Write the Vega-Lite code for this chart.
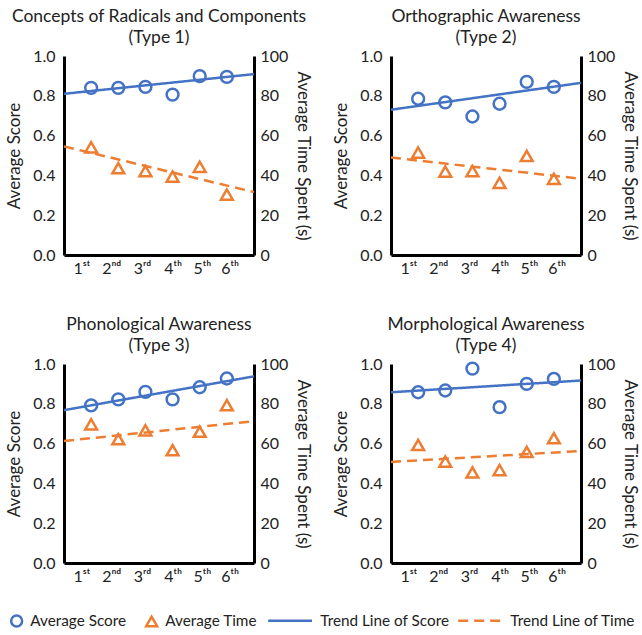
{
  "$schema": "https://vega.github.io/schema/vega-lite/v6.json",
  "padding": {"left": 5, "top": 7, "right": 0, "bottom": 2},
  "background": "white",
  "datasets": {
    "d": [
      {"type": "Type 1", "grade": 1, "series": "Average Score", "value": 0.84},
      {"type": "Type 1", "grade": 2, "series": "Average Score", "value": 0.84},
      {"type": "Type 1", "grade": 3, "series": "Average Score", "value": 0.845},
      {"type": "Type 1", "grade": 4, "series": "Average Score", "value": 0.806},
      {"type": "Type 1", "grade": 5, "series": "Average Score", "value": 0.899},
      {"type": "Type 1", "grade": 6, "series": "Average Score", "value": 0.895},
      {"type": "Type 1", "grade": 1, "series": "Average Time", "value": 54.1},
      {"type": "Type 1", "grade": 2, "series": "Average Time", "value": 43.6},
      {"type": "Type 1", "grade": 3, "series": "Average Time", "value": 42.2},
      {"type": "Type 1", "grade": 4, "series": "Average Time", "value": 39.4},
      {"type": "Type 1", "grade": 5, "series": "Average Time", "value": 44.3},
      {"type": "Type 1", "grade": 6, "series": "Average Time", "value": 30.4},
      {"type": "Type 1", "grade": 0, "series": "Trend Line of Score", "value": 0.81},
      {"type": "Type 1", "grade": 7, "series": "Trend Line of Score", "value": 0.909},
      {"type": "Type 1", "grade": 0, "series": "Trend Line of Time", "value": 54.6},
      {"type": "Type 1", "grade": 7, "series": "Trend Line of Time", "value": 31.6},

      {"type": "Type 2", "grade": 1, "series": "Average Score", "value": 0.785},
      {"type": "Type 2", "grade": 2, "series": "Average Score", "value": 0.767},
      {"type": "Type 2", "grade": 3, "series": "Average Score", "value": 0.696},
      {"type": "Type 2", "grade": 4, "series": "Average Score", "value": 0.76},
      {"type": "Type 2", "grade": 5, "series": "Average Score", "value": 0.87},
      {"type": "Type 2", "grade": 6, "series": "Average Score", "value": 0.845},
      {"type": "Type 2", "grade": 1, "series": "Average Time", "value": 51.5},
      {"type": "Type 2", "grade": 2, "series": "Average Time", "value": 41.9},
      {"type": "Type 2", "grade": 3, "series": "Average Time", "value": 42.2},
      {"type": "Type 2", "grade": 4, "series": "Average Time", "value": 36.3},
      {"type": "Type 2", "grade": 5, "series": "Average Time", "value": 49.8},
      {"type": "Type 2", "grade": 6, "series": "Average Time", "value": 38.3},
      {"type": "Type 2", "grade": 0, "series": "Trend Line of Score", "value": 0.73},
      {"type": "Type 2", "grade": 7, "series": "Trend Line of Score", "value": 0.865},
      {"type": "Type 2", "grade": 0, "series": "Trend Line of Time", "value": 49.0},
      {"type": "Type 2", "grade": 7, "series": "Trend Line of Time", "value": 38.3},

      {"type": "Type 3", "grade": 1, "series": "Average Score", "value": 0.792},
      {"type": "Type 3", "grade": 2, "series": "Average Score", "value": 0.822},
      {"type": "Type 3", "grade": 3, "series": "Average Score", "value": 0.86},
      {"type": "Type 3", "grade": 4, "series": "Average Score", "value": 0.822},
      {"type": "Type 3", "grade": 5, "series": "Average Score", "value": 0.883},
      {"type": "Type 3", "grade": 6, "series": "Average Score", "value": 0.927},
      {"type": "Type 3", "grade": 1, "series": "Average Time", "value": 69.7},
      {"type": "Type 3", "grade": 2, "series": "Average Time", "value": 62.2},
      {"type": "Type 3", "grade": 3, "series": "Average Time", "value": 66.7},
      {"type": "Type 3", "grade": 4, "series": "Average Time", "value": 56.7},
      {"type": "Type 3", "grade": 5, "series": "Average Time", "value": 66.0},
      {"type": "Type 3", "grade": 6, "series": "Average Time", "value": 79.3},
      {"type": "Type 3", "grade": 0, "series": "Trend Line of Score", "value": 0.768},
      {"type": "Type 3", "grade": 7, "series": "Trend Line of Score", "value": 0.938},
      {"type": "Type 3", "grade": 0, "series": "Trend Line of Time", "value": 61.3},
      {"type": "Type 3", "grade": 7, "series": "Trend Line of Time", "value": 71.3},

      {"type": "Type 4", "grade": 1, "series": "Average Score", "value": 0.858},
      {"type": "Type 4", "grade": 2, "series": "Average Score", "value": 0.867},
      {"type": "Type 4", "grade": 3, "series": "Average Score", "value": 0.977},
      {"type": "Type 4", "grade": 4, "series": "Average Score", "value": 0.783},
      {"type": "Type 4", "grade": 5, "series": "Average Score", "value": 0.9},
      {"type": "Type 4", "grade": 6, "series": "Average Score", "value": 0.925},
      {"type": "Type 4", "grade": 1, "series": "Average Time", "value": 59.3},
      {"type": "Type 4", "grade": 2, "series": "Average Time", "value": 51.0},
      {"type": "Type 4", "grade": 3, "series": "Average Time", "value": 45.5},
      {"type": "Type 4", "grade": 4, "series": "Average Time", "value": 46.7},
      {"type": "Type 4", "grade": 5, "series": "Average Time", "value": 55.8},
      {"type": "Type 4", "grade": 6, "series": "Average Time", "value": 62.7},
      {"type": "Type 4", "grade": 0, "series": "Trend Line of Score", "value": 0.858},
      {"type": "Type 4", "grade": 7, "series": "Trend Line of Score", "value": 0.917},
      {"type": "Type 4", "grade": 0, "series": "Trend Line of Time", "value": 50.8},
      {"type": "Type 4", "grade": 7, "series": "Trend Line of Time", "value": 56.3}
    ]
  },
  "concat": [
    {
      "width": 190, "height": 199,
      "title": {"text": ["Concepts of Radicals and Components", "(Type 1)"]},
      "data": {"name": "d"},
      "transform": [{"filter": "datum.type === 'Type 1'"}],
      "encoding": {"x": {"field": "grade", "type": "quantitative", "scale": {"domain": [0, 7], "nice": false, "zero": false}, "axis": {"values": [0.64, 1.74, 2.87, 4.0, 5.08, 6.1], "labelExpr": "['1ˢᵗ', '2ⁿᵈ', '3ʳᵈ', '4ᵗʰ', '5ᵗʰ', '6ᵗʰ'][round(datum.value) - 1]", "title": null}}},
      "layer": [
        {
          "encoding": {"y": {"field": "value", "type": "quantitative", "scale": {"domain": [0, 1], "nice": false}, "axis": {"orient": "left", "title": "Average Score", "values": [0, 0.2, 0.4, 0.6, 0.8, 1], "format": ".1f"}}},
          "layer": [
            {"transform": [{"filter": "datum.series === 'Average Score'"}], "mark": {"type": "point", "filled": false, "size": 140, "strokeWidth": 2.5, "opacity": 1},
             "encoding": {"color": {"field": "series", "type": "nominal", "scale": {"domain": ["Average Score", "Average Time"], "range": ["#4472C4", "#ED7D31"]}, "legend": {"orient": "bottom", "direction": "horizontal", "title": null, "labelOffset": 6, "columnPadding": 14}},
                          "shape": {"field": "series", "type": "nominal", "scale": {"domain": ["Average Score", "Average Time"], "range": ["circle", "triangle-up"]}}}},
            {"transform": [{"filter": "datum.series === 'Trend Line of Score'"}], "mark": {"type": "line", "strokeWidth": 2.5},
             "encoding": {"stroke": {"field": "series", "type": "nominal", "scale": {"domain": ["Trend Line of Score", "Trend Line of Time"], "range": ["#4472C4", "#ED7D31"]}, "legend": {"orient": "bottom", "direction": "horizontal", "title": null, "symbolType": "M-1,0H7", "labelOffset": 39, "columnPadding": 3}},
                          "strokeDash": {"field": "series", "type": "nominal", "scale": {"domain": ["Trend Line of Score", "Trend Line of Time"], "range": [[1, 0], [10, 6]]}}}}
          ]
        },
        {
          "encoding": {"y": {"field": "value", "type": "quantitative", "scale": {"domain": [0, 100], "nice": false}, "axis": {"orient": "right", "title": "Average Time Spent (s)", "values": [0, 20, 40, 60, 80, 100]}}},
          "layer": [
            {"transform": [{"filter": "datum.series === 'Average Time'"}], "mark": {"type": "point", "filled": false, "size": 140, "strokeWidth": 2.5, "opacity": 1},
             "encoding": {"color": {"field": "series", "type": "nominal", "scale": {"domain": ["Average Score", "Average Time"], "range": ["#4472C4", "#ED7D31"]}, "legend": {"orient": "bottom", "direction": "horizontal", "title": null, "labelOffset": 6, "columnPadding": 14}},
                          "shape": {"field": "series", "type": "nominal", "scale": {"domain": ["Average Score", "Average Time"], "range": ["circle", "triangle-up"]}}}},
            {"transform": [{"filter": "datum.series === 'Trend Line of Time'"}], "mark": {"type": "line", "strokeWidth": 2.5},
             "encoding": {"stroke": {"field": "series", "type": "nominal", "scale": {"domain": ["Trend Line of Score", "Trend Line of Time"], "range": ["#4472C4", "#ED7D31"]}, "legend": {"orient": "bottom", "direction": "horizontal", "title": null, "symbolType": "M-1,0H7", "labelOffset": 39, "columnPadding": 3}},
                          "strokeDash": {"field": "series", "type": "nominal", "scale": {"domain": ["Trend Line of Score", "Trend Line of Time"], "range": [[1, 0], [10, 6]]}}}}
          ]
        }
      ],
      "resolve": {"scale": {"y": "independent"}}
    },
    {
      "width": 190, "height": 199,
      "title": {"text": ["Orthographic Awareness", "(Type 2)"]},
      "data": {"name": "d"},
      "transform": [{"filter": "datum.type === 'Type 2'"}],
      "encoding": {"x": {"field": "grade", "type": "quantitative", "scale": {"domain": [0, 7], "nice": false, "zero": false}, "axis": {"values": [0.64, 1.74, 2.87, 4.0, 5.08, 6.1], "labelExpr": "['1ˢᵗ', '2ⁿᵈ', '3ʳᵈ', '4ᵗʰ', '5ᵗʰ', '6ᵗʰ'][round(datum.value) - 1]", "title": null}}},
      "layer": [
        {
          "encoding": {"y": {"field": "value", "type": "quantitative", "scale": {"domain": [0, 1], "nice": false}, "axis": {"orient": "left", "title": "Average Score", "values": [0, 0.2, 0.4, 0.6, 0.8, 1], "format": ".1f"}}},
          "layer": [
            {"transform": [{"filter": "datum.series === 'Average Score'"}], "mark": {"type": "point", "filled": false, "size": 140, "strokeWidth": 2.5, "opacity": 1},
             "encoding": {"color": {"field": "series", "type": "nominal", "scale": {"domain": ["Average Score", "Average Time"], "range": ["#4472C4", "#ED7D31"]}, "legend": {"orient": "bottom", "direction": "horizontal", "title": null, "labelOffset": 6, "columnPadding": 14}},
                          "shape": {"field": "series", "type": "nominal", "scale": {"domain": ["Average Score", "Average Time"], "range": ["circle", "triangle-up"]}}}},
            {"transform": [{"filter": "datum.series === 'Trend Line of Score'"}], "mark": {"type": "line", "strokeWidth": 2.5},
             "encoding": {"stroke": {"field": "series", "type": "nominal", "scale": {"domain": ["Trend Line of Score", "Trend Line of Time"], "range": ["#4472C4", "#ED7D31"]}, "legend": {"orient": "bottom", "direction": "horizontal", "title": null, "symbolType": "M-1,0H7", "labelOffset": 39, "columnPadding": 3}},
                          "strokeDash": {"field": "series", "type": "nominal", "scale": {"domain": ["Trend Line of Score", "Trend Line of Time"], "range": [[1, 0], [10, 6]]}}}}
          ]
        },
        {
          "encoding": {"y": {"field": "value", "type": "quantitative", "scale": {"domain": [0, 100], "nice": false}, "axis": {"orient": "right", "title": "Average Time Spent (s)", "values": [0, 20, 40, 60, 80, 100]}}},
          "layer": [
            {"transform": [{"filter": "datum.series === 'Average Time'"}], "mark": {"type": "point", "filled": false, "size": 140, "strokeWidth": 2.5, "opacity": 1},
             "encoding": {"color": {"field": "series", "type": "nominal", "scale": {"domain": ["Average Score", "Average Time"], "range": ["#4472C4", "#ED7D31"]}, "legend": {"orient": "bottom", "direction": "horizontal", "title": null, "labelOffset": 6, "columnPadding": 14}},
                          "shape": {"field": "series", "type": "nominal", "scale": {"domain": ["Average Score", "Average Time"], "range": ["circle", "triangle-up"]}}}},
            {"transform": [{"filter": "datum.series === 'Trend Line of Time'"}], "mark": {"type": "line", "strokeWidth": 2.5},
             "encoding": {"stroke": {"field": "series", "type": "nominal", "scale": {"domain": ["Trend Line of Score", "Trend Line of Time"], "range": ["#4472C4", "#ED7D31"]}, "legend": {"orient": "bottom", "direction": "horizontal", "title": null, "symbolType": "M-1,0H7", "labelOffset": 39, "columnPadding": 3}},
                          "strokeDash": {"field": "series", "type": "nominal", "scale": {"domain": ["Trend Line of Score", "Trend Line of Time"], "range": [[1, 0], [10, 6]]}}}}
          ]
        }
      ],
      "resolve": {"scale": {"y": "independent"}}
    },
    {
      "width": 190, "height": 199,
      "title": {"text": ["Phonological Awareness", "(Type 3)"]},
      "data": {"name": "d"},
      "transform": [{"filter": "datum.type === 'Type 3'"}],
      "encoding": {"x": {"field": "grade", "type": "quantitative", "scale": {"domain": [0, 7], "nice": false, "zero": false}, "axis": {"values": [0.64, 1.74, 2.87, 4.0, 5.08, 6.1], "labelExpr": "['1ˢᵗ', '2ⁿᵈ', '3ʳᵈ', '4ᵗʰ', '5ᵗʰ', '6ᵗʰ'][round(datum.value) - 1]", "title": null}}},
      "layer": [
        {
          "encoding": {"y": {"field": "value", "type": "quantitative", "scale": {"domain": [0, 1], "nice": false}, "axis": {"orient": "left", "title": "Average Score", "values": [0, 0.2, 0.4, 0.6, 0.8, 1], "format": ".1f"}}},
          "layer": [
            {"transform": [{"filter": "datum.series === 'Average Score'"}], "mark": {"type": "point", "filled": false, "size": 140, "strokeWidth": 2.5, "opacity": 1},
             "encoding": {"color": {"field": "series", "type": "nominal", "scale": {"domain": ["Average Score", "Average Time"], "range": ["#4472C4", "#ED7D31"]}, "legend": {"orient": "bottom", "direction": "horizontal", "title": null, "labelOffset": 6, "columnPadding": 14}},
                          "shape": {"field": "series", "type": "nominal", "scale": {"domain": ["Average Score", "Average Time"], "range": ["circle", "triangle-up"]}}}},
            {"transform": [{"filter": "datum.series === 'Trend Line of Score'"}], "mark": {"type": "line", "strokeWidth": 2.5},
             "encoding": {"stroke": {"field": "series", "type": "nominal", "scale": {"domain": ["Trend Line of Score", "Trend Line of Time"], "range": ["#4472C4", "#ED7D31"]}, "legend": {"orient": "bottom", "direction": "horizontal", "title": null, "symbolType": "M-1,0H7", "labelOffset": 39, "columnPadding": 3}},
                          "strokeDash": {"field": "series", "type": "nominal", "scale": {"domain": ["Trend Line of Score", "Trend Line of Time"], "range": [[1, 0], [10, 6]]}}}}
          ]
        },
        {
          "encoding": {"y": {"field": "value", "type": "quantitative", "scale": {"domain": [0, 100], "nice": false}, "axis": {"orient": "right", "title": "Average Time Spent (s)", "values": [0, 20, 40, 60, 80, 100]}}},
          "layer": [
            {"transform": [{"filter": "datum.series === 'Average Time'"}], "mark": {"type": "point", "filled": false, "size": 140, "strokeWidth": 2.5, "opacity": 1},
             "encoding": {"color": {"field": "series", "type": "nominal", "scale": {"domain": ["Average Score", "Average Time"], "range": ["#4472C4", "#ED7D31"]}, "legend": {"orient": "bottom", "direction": "horizontal", "title": null, "labelOffset": 6, "columnPadding": 14}},
                          "shape": {"field": "series", "type": "nominal", "scale": {"domain": ["Average Score", "Average Time"], "range": ["circle", "triangle-up"]}}}},
            {"transform": [{"filter": "datum.series === 'Trend Line of Time'"}], "mark": {"type": "line", "strokeWidth": 2.5},
             "encoding": {"stroke": {"field": "series", "type": "nominal", "scale": {"domain": ["Trend Line of Score", "Trend Line of Time"], "range": ["#4472C4", "#ED7D31"]}, "legend": {"orient": "bottom", "direction": "horizontal", "title": null, "symbolType": "M-1,0H7", "labelOffset": 39, "columnPadding": 3}},
                          "strokeDash": {"field": "series", "type": "nominal", "scale": {"domain": ["Trend Line of Score", "Trend Line of Time"], "range": [[1, 0], [10, 6]]}}}}
          ]
        }
      ],
      "resolve": {"scale": {"y": "independent"}}
    },
    {
      "width": 190, "height": 199,
      "title": {"text": ["Morphological Awareness", "(Type 4)"]},
      "data": {"name": "d"},
      "transform": [{"filter": "datum.type === 'Type 4'"}],
      "encoding": {"x": {"field": "grade", "type": "quantitative", "scale": {"domain": [0, 7], "nice": false, "zero": false}, "axis": {"values": [0.64, 1.74, 2.87, 4.0, 5.08, 6.1], "labelExpr": "['1ˢᵗ', '2ⁿᵈ', '3ʳᵈ', '4ᵗʰ', '5ᵗʰ', '6ᵗʰ'][round(datum.value) - 1]", "title": null}}},
      "layer": [
        {
          "encoding": {"y": {"field": "value", "type": "quantitative", "scale": {"domain": [0, 1], "nice": false}, "axis": {"orient": "left", "title": "Average Score", "values": [0, 0.2, 0.4, 0.6, 0.8, 1], "format": ".1f"}}},
          "layer": [
            {"transform": [{"filter": "datum.series === 'Average Score'"}], "mark": {"type": "point", "filled": false, "size": 140, "strokeWidth": 2.5, "opacity": 1},
             "encoding": {"color": {"field": "series", "type": "nominal", "scale": {"domain": ["Average Score", "Average Time"], "range": ["#4472C4", "#ED7D31"]}, "legend": {"orient": "bottom", "direction": "horizontal", "title": null, "labelOffset": 6, "columnPadding": 14}},
                          "shape": {"field": "series", "type": "nominal", "scale": {"domain": ["Average Score", "Average Time"], "range": ["circle", "triangle-up"]}}}},
            {"transform": [{"filter": "datum.series === 'Trend Line of Score'"}], "mark": {"type": "line", "strokeWidth": 2.5},
             "encoding": {"stroke": {"field": "series", "type": "nominal", "scale": {"domain": ["Trend Line of Score", "Trend Line of Time"], "range": ["#4472C4", "#ED7D31"]}, "legend": {"orient": "bottom", "direction": "horizontal", "title": null, "symbolType": "M-1,0H7", "labelOffset": 39, "columnPadding": 3}},
                          "strokeDash": {"field": "series", "type": "nominal", "scale": {"domain": ["Trend Line of Score", "Trend Line of Time"], "range": [[1, 0], [10, 6]]}}}}
          ]
        },
        {
          "encoding": {"y": {"field": "value", "type": "quantitative", "scale": {"domain": [0, 100], "nice": false}, "axis": {"orient": "right", "title": "Average Time Spent (s)", "values": [0, 20, 40, 60, 80, 100]}}},
          "layer": [
            {"transform": [{"filter": "datum.series === 'Average Time'"}], "mark": {"type": "point", "filled": false, "size": 140, "strokeWidth": 2.5, "opacity": 1},
             "encoding": {"color": {"field": "series", "type": "nominal", "scale": {"domain": ["Average Score", "Average Time"], "range": ["#4472C4", "#ED7D31"]}, "legend": {"orient": "bottom", "direction": "horizontal", "title": null, "labelOffset": 6, "columnPadding": 14}},
                          "shape": {"field": "series", "type": "nominal", "scale": {"domain": ["Average Score", "Average Time"], "range": ["circle", "triangle-up"]}}}},
            {"transform": [{"filter": "datum.series === 'Trend Line of Time'"}], "mark": {"type": "line", "strokeWidth": 2.5},
             "encoding": {"stroke": {"field": "series", "type": "nominal", "scale": {"domain": ["Trend Line of Score", "Trend Line of Time"], "range": ["#4472C4", "#ED7D31"]}, "legend": {"orient": "bottom", "direction": "horizontal", "title": null, "symbolType": "M-1,0H7", "labelOffset": 39, "columnPadding": 3}},
                          "strokeDash": {"field": "series", "type": "nominal", "scale": {"domain": ["Trend Line of Score", "Trend Line of Time"], "range": [[1, 0], [10, 6]]}}}}
          ]
        }
      ],
      "resolve": {"scale": {"y": "independent"}}
    }
  ],
  "columns": 2,
  "spacing": {"row": 39, "column": 20},
  "config": {
    "font": "Lato",
    "view": {"stroke": null},
    "axis": {"grid": false, "ticks": false, "domainColor": "black", "domainWidth": 3, "labelFontSize": 16, "titleFontSize": 17, "titleFontWeight": "normal", "labelColor": "#222", "titleColor": "#222", "labelPadding": 6, "titlePadding": 8},
    "axisX": {"labelPadding": 5},
    "axisLeft": {"labelPadding": 9, "titlePadding": 9},
    "axisRight": {"labelPadding": 6, "titlePadding": 6},
    "title": {"fontSize": 17.5, "fontWeight": "normal", "anchor": "middle", "offset": 2, "color": "#222", "lineHeight": 21},
    "legend": {"labelFontSize": 15.3, "labelColor": "#222", "symbolStrokeWidth": 2.5, "symbolSize": 120, "offset": 29, "layout": {"bottom": {"anchor": "middle", "margin": 9}}}
  }
}
